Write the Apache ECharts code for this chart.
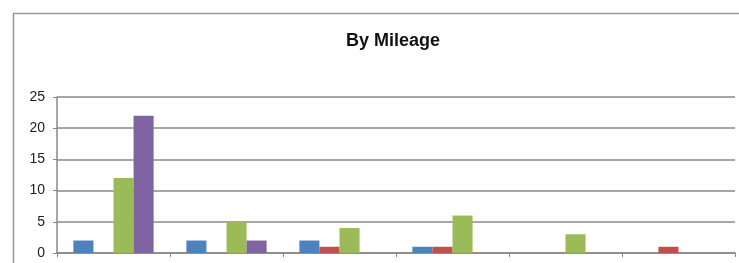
<!DOCTYPE html>
<html>
<head>
<meta charset="utf-8">
<script src="https://cdn.jsdelivr.net/npm/echarts@6/dist/echarts.min.js"></script>
<style>
  html, body { margin: 0; padding: 0; background: #fff; }
  #chart { width: 739px; height: 263px; }
</style>
</head>
<body>
<div id="chart"></div>
<script>
// six mileage groups, labels are cut off in the picture
const categories = ['1', '2', '3', '4', '5', '6']
const blueValues = [2, 2, 2, 1, 0, 0]
const redValues = [0, 0, 1, 1, 0, 1]
const greenValues = [12, 5, 4, 6, 3, 0]
const purpleValues = [22, 2, 0, 0, 0, 0]
const yTicks = [0, 5, 10, 15, 20, 25]

const colors = ['#4F81BD', '#C0504D', '#9BBB59', '#8064A2']
const seriesData = [blueValues, redValues, greenValues, purpleValues]

const chart = echarts.init(document.getElementById('chart'))
chart.setOption({
  animation: false,
  title: {
    text: 'By Mileage',
    left: 341,
    top: 27,
    textStyle: { fontFamily: 'Liberation Sans', fontSize: 18, fontWeight: 'bold', color: '#111' }
  },
  graphic: [
    {
      type: 'rect',
      shape: { x: 13.5, y: 13.5, width: 800, height: 300 },
      style: { fill: 'none', stroke: '#9a9a9a', lineWidth: 1.5 },
      silent: true,
      z: -1
    }
  ],
  grid: { left: 57, right: 4, top: 97, bottom: 10 },
  xAxis: {
    type: 'category',
    data: categories,
    axisLine: { lineStyle: { color: '#888', width: 1.5 } },
    axisTick: { show: true, length: 4, lineStyle: { color: '#888' } },
    axisLabel: { show: false }
  },
  yAxis: {
    type: 'value',
    min: yTicks[0],
    max: yTicks[yTicks.length - 1],
    interval: 5,
    axisLine: { show: true, lineStyle: { color: '#888', width: 1.5 } },
    axisTick: { show: true, length: 4, lineStyle: { color: '#888' } },
    axisLabel: { fontFamily: 'Liberation Sans', fontSize: 14, color: '#222', margin: 12 },
    splitLine: { lineStyle: { color: '#8a8a8a', width: 1.5 } }
  },
  series: seriesData.map((data, i) => ({
    type: 'bar',
    data: data,
    barGap: '0%',
    barCategoryGap: '29%',
    itemStyle: { color: colors[i] }
  }))
})
</script>
</body>
</html>
